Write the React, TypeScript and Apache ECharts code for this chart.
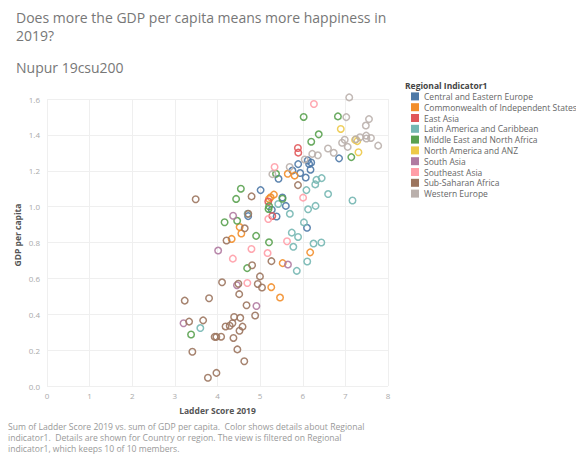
import React, { useEffect, useRef } from "react";
import * as echarts from "echarts";

const regions = [
  "Central and Eastern Europe",
  "Commonwealth of Independent States",
  "East Asia",
  "Latin America and Caribbean",
  "Middle East and North Africa",
  "North America and ANZ",
  "South Asia",
  "Southeast Asia",
  "Sub-Saharan Africa",
  "Western Europe",
];

const regionColors = [
  "#4e79a7", "#f28e2b", "#e15759", "#76b7b2", "#59a14f",
  "#edc948", "#b07aa1", "#ff9da7", "#9c755f", "#bab0ac",
];

// [Ladder Score 2019, GDP per capita]
const centralEasternEurope = [
  [6.852, 1.269], [6.198, 1.246], [6.182, 1.206], [6.149, 1.238], [6.118, 1.258],
  [6.1, 0.882], [6.07, 1.162], [5.94, 1.187], [5.893, 1.237], [5.758, 1.201],
  [5.603, 1.004], [5.523, 1.051], [5.432, 1.155], [5.386, 0.945], [5.274, 0.983],
  [5.011, 1.092], [4.719, 0.947],
];
const commonwealthIndependentStates = [
  [6.174, 0.745], [5.809, 1.173], [5.648, 1.183], [5.529, 0.685], [5.467, 0.493],
  [5.323, 1.067], [5.261, 0.551], [5.247, 1.052], [5.208, 1.043], [4.559, 0.85],
  [4.519, 0.886], [4.332, 0.82],
];
const eastAsia = [
  [5.895, 1.301], [5.886, 1.327], [5.285, 0.948], [5.191, 1.029],
];
const latinAmericaCaribbean = [
  [7.167, 1.034], [6.595, 1.07], [6.444, 1.159], [6.436, 0.8], [6.321, 1.149],
  [6.3, 1.004], [6.293, 1.124], [6.253, 0.794], [6.125, 0.985], [6.105, 0.694],
  [6.086, 1.092], [6.028, 0.912], [5.89, 0.831], [5.86, 0.642], [5.779, 0.776],
  [5.743, 0.855], [5.697, 0.96], [5.425, 1.015], [4.707, 0.96], [3.597, 0.323],
];
const middleEastNorthAfrica = [
  [7.139, 1.276], [6.825, 1.503], [6.375, 1.403], [6.199, 1.362], [6.021, 1.5],
  [5.525, 1.044], [5.373, 1.183], [5.211, 1.002], [5.208, 0.801], [5.197, 0.987],
  [4.906, 0.837], [4.696, 0.657], [4.548, 1.1], [4.461, 0.921], [4.437, 1.043],
  [4.166, 0.913], [3.38, 0.287],
];
const northAmericaANZ = [
  [7.307, 1.303], [7.278, 1.365], [7.228, 1.372], [6.892, 1.433],
];
const southAsia = [
  [5.653, 0.677], [4.913, 0.446], [4.456, 0.562], [4.366, 0.949], [4.015, 0.755],
  [3.203, 0.35],
];
const southeastAsia = [
  [6.262, 1.572], [6.008, 1.05], [5.631, 0.807], [5.339, 1.221], [5.192, 0.931],
  [5.175, 0.741], [4.796, 0.764], [4.7, 0.574], [4.36, 0.71],
];
const subSaharanAfrica = [
  [5.888, 1.12], [5.265, 0.696], [5.044, 0.549], [4.996, 0.611], [4.944, 0.569],
  [4.883, 0.393], [4.812, 0.673], [4.799, 1.057], [4.722, 0.96], [4.681, 0.45],
  [4.639, 0.879], [4.628, 0.138], [4.587, 0.331], [4.534, 0.38], [4.516, 0.308],
  [4.509, 0.512], [4.49, 0.57], [4.466, 0.204], [4.39, 0.385], [4.374, 0.268],
  [4.35, 0.35], [4.286, 0.336], [4.212, 0.811], [4.189, 0.332], [4.107, 0.578],
  [4.085, 0.275], [3.975, 0.073], [3.973, 0.274], [3.933, 0.274], [3.802, 0.489],
  [3.775, 0.046], [3.663, 0.366], [3.488, 1.041], [3.41, 0.191], [3.334, 0.359],
  [3.231, 0.476],
];
const westernEurope = [
  [7.769, 1.34], [7.6, 1.383], [7.554, 1.488], [7.494, 1.38], [7.488, 1.396],
  [7.48, 1.452], [7.343, 1.387], [7.246, 1.376], [7.09, 1.609], [7.054, 1.333],
  [7.021, 1.499], [6.985, 1.373], [6.923, 1.356], [6.726, 1.3], [6.592, 1.324],
  [6.354, 1.286], [6.223, 1.294], [6.046, 1.263], [5.693, 1.221], [5.287, 1.181],
];

const regionData = [
  centralEasternEurope, commonwealthIndependentStates, eastAsia, latinAmericaCaribbean,
  middleEastNorthAfrica, northAmericaANZ, southAsia, southeastAsia, subSaharanAfrica,
  westernEurope,
];

const xTicks = { min: 0, max: 8, interval: 1 };
const yTicks = { min: 0, max: 1.6, interval: 0.2 };

const FONT = "'Open Sans', sans-serif";

export default function App() {
  const ref = useRef<HTMLDivElement>(null);
  useEffect(() => {
    document.body.style.margin = "0";
    const chart = echarts.init(ref.current!, null, { renderer: "svg" });
    chart.setOption({
      animation: false,
      backgroundColor: "#ffffff",
      textStyle: { fontFamily: FONT },
      title: [
        {
          text: "Does more the GDP per capita means more happiness in\n2019?",
          left: 11,
          top: 3,
          textStyle: { fontFamily: FONT, fontSize: 14, fontWeight: "normal", color: "#777777", lineHeight: 18 },
        },
        {
          text: "Nupur 19csu200",
          left: 11,
          top: 55,
          textStyle: { fontFamily: FONT, fontSize: 14, fontWeight: "normal", color: "#777777" },
        },
      ],
      grid: { left: 47, right: 188, top: 99, bottom: 72, containLabel: false },
      xAxis: {
        type: "value",
        min: xTicks.min,
        max: xTicks.max,
        interval: xTicks.interval,
        name: "Ladder Score 2019",
        nameLocation: "middle",
        nameGap: 20,
        nameTextStyle: { fontFamily: FONT, fontSize: 8.5, fontWeight: "bold", color: "#555555" },
        axisLine: { show: false },
        axisTick: { show: false },
        axisLabel: { fontFamily: FONT, fontSize: 8, color: "#aaaaaa", margin: 5 },
        splitLine: { lineStyle: { color: "#efefef", width: 1 } },
      },
      yAxis: {
        type: "value",
        min: yTicks.min,
        max: yTicks.max,
        interval: yTicks.interval,
        axisLine: { show: false },
        axisTick: { show: false },
        axisLabel: {
          fontFamily: FONT, fontSize: 8, color: "#aaaaaa", margin: 7,
          formatter: (v: number) => v.toFixed(1),
        },
        splitLine: { lineStyle: { color: "#efefef", width: 1 } },
      },
      legend: {
        orient: "vertical",
        left: 406,
        top: 86,
        icon: "rect",
        itemWidth: 8,
        itemHeight: 8,
        itemGap: 0,
        selectedMode: false,
        textStyle: { fontFamily: FONT, fontSize: 8.5, color: "#666666", lineHeight: 10.8, padding: [0, 0, 0, 0] },
        data: regions.map((r, i) => ({ name: r, itemStyle: { color: regionColors[i], borderWidth: 0, opacity: 1 } })),
      },
      graphic: [
        {
          type: "text",
          left: 405,
          top: 81,
          style: { text: "Regional Indicator1", fontFamily: FONT, fontSize: 8.5, fontWeight: "bold", fill: "#444444" },
        },
        {
          type: "text",
          x: 17,
          y: 235,
          rotation: Math.PI / 2,
          style: {
            text: "GDP per capita", fontFamily: FONT, fontSize: 8.5, fontWeight: "bold", fill: "#555555",
            align: "center", verticalAlign: "middle",
          },
        },
        {
          type: "text",
          left: 8,
          top: 421,
          style: {
            text:
              "Sum of Ladder Score 2019 vs. sum of GDP per capita.  Color shows details about Regional\n" +
              "indicator1.  Details are shown for Country or region. The view is filtered on Regional\n" +
              "indicator1, which keeps 10 of 10 members.",
            fontFamily: FONT, fontSize: 8.6, lineHeight: 11, fill: "#999999",
          },
        },
      ],
      series: regions.map((r, i) => ({
        name: r,
        type: "scatter",
        data: regionData[i],
        symbol: "circle",
        symbolSize: 6.5,
        clip: false,
        itemStyle: { color: "rgba(255,255,255,0)", borderColor: regionColors[i], borderWidth: 1.5, opacity: 0.9 },
        emphasis: { disabled: true },
      })),
    });
    return () => chart.dispose();
  }, []);
  return <div ref={ref} style={{ position: "fixed", left: 0, top: 0, width: 576, height: 458 }} />;
}
